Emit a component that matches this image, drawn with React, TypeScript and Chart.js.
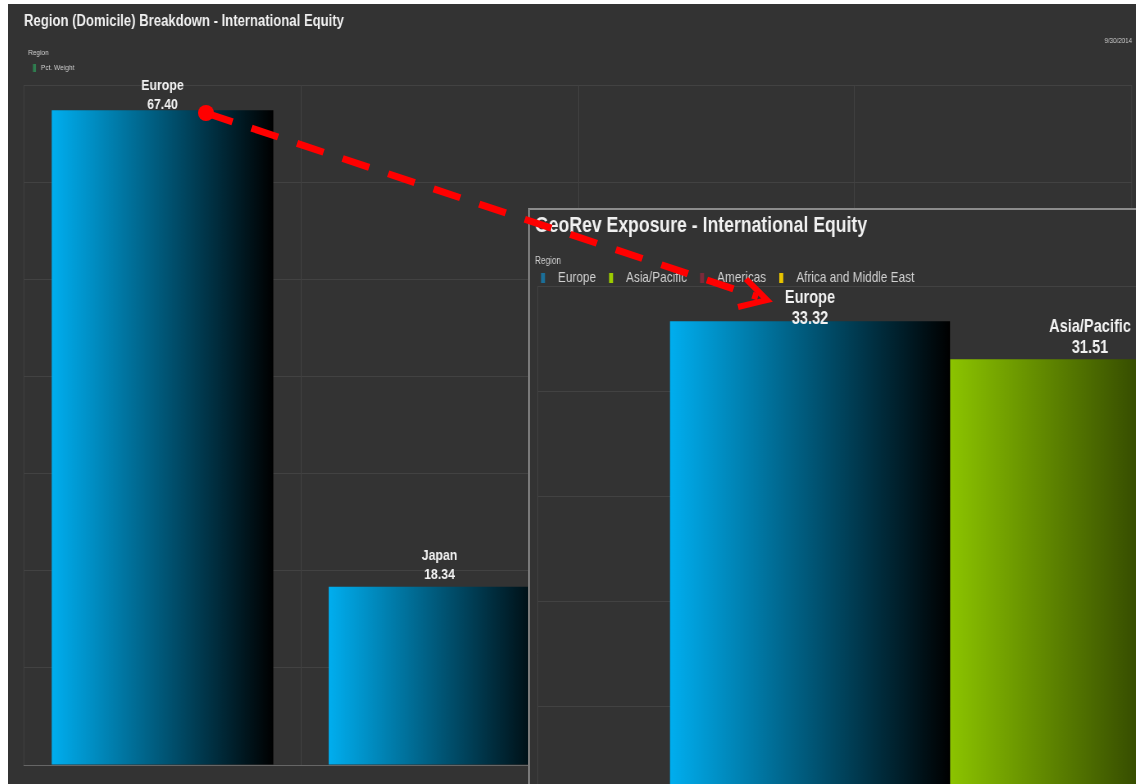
import React, { useEffect, useRef } from 'react';
import { Chart, registerables } from 'chart.js';

Chart.register(...registerables);

// ---------- data ----------
const domicileTitle = 'Region (Domicile) Breakdown - International Equity';
const domicileCategories = ['Europe', 'Japan', 'Pacific ex Japan', 'Other'];
const domicileWeights = [67.4, 18.34, 11.82, 2.44];
const domicileSeriesLabel = 'Pct. Weight';
const domicileTicks = [0, 10, 20, 30, 40, 50, 60, 70];
const asOfDate = '9/30/2014';

const georevTitle = 'GeoRev Exposure - International Equity';
const georevRegions = ['Europe', 'Asia/Pacific', 'Americas', 'Africa and Middle East'];
const georevExposure = [33.32, 31.51, 27.9, 7.27];
const georevTicks = [0, 5, 10, 15, 20, 25, 30, 35];

const legendTitle = 'Region';

// ---------- styles ----------
// the source screenshot is horizontally condensed; the canvases are drawn wider and squeezed.
const S = 0.82;
const FONT = "'Liberation Sans', Arial, sans-serif";
const BG = '#333333';
const GRID = '#424242';
const blueStops = ['#00aeef', '#000000'];
const georevStops = [
  ['#00aeef', '#000000'],
  ['#8cc400', '#0c1200'],
  ['#e0252b', '#000000'],
  ['#f3c300', '#000000'],
];
const georevMarkerColors = ['#1b6f99', '#9ccc00', '#7a2a3a', '#e8c400'];
const domicileMarkerColor = '#2f7d4f';

const OUTER_W = Math.round(1128 / S);
const INSET_W = 1702;

function barFill(c: any, stops: string[]) {
  const chart = c.chart;
  const area = chart.chartArea;
  if (!area || c.type !== 'data' || c.dataIndex === undefined) return stops[0];
  const xs = chart.scales.x;
  const ds = chart.data.datasets[c.datasetIndex];
  const n = chart.data.labels.length;
  const nd = chart.data.datasets.length;
  const catW = (xs.right - xs.left) / n;
  const groupW = catW * (ds.categoryPercentage ?? 0.8);
  const slotW = groupW / nd;
  const barW = slotW * (ds.barPercentage ?? 0.9);
  const center = xs.getPixelForValue(c.dataIndex);
  const left = center - groupW / 2 + slotW * c.datasetIndex + (slotW - barW) / 2;
  const g = chart.ctx.createLinearGradient(left, 0, left + barW, 0);
  stops.forEach((s, i) => g.addColorStop(i / (stops.length - 1), s));
  return g;
}

const valueLabelPlugin = {
  id: 'valueLabels',
  afterDatasetsDraw(chart: any, _a: any, o: any) {
    const { ctx, chartArea } = chart;
    ctx.save();
    ctx.fillStyle = o.color;
    ctx.font = o.font;
    ctx.textAlign = 'center';
    ctx.textBaseline = 'middle';
    chart.data.datasets.forEach((ds: any, di: number) => {
      const meta = chart.getDatasetMeta(di);
      meta.data.forEach((el: any, i: number) => {
        const v = ds.data[i];
        const name = o.nameFrom === 'dataset' ? ds.label : chart.data.labels[i];
        let nameY = el.y - o.nameOffset;
        const minY = chartArea.top + o.minNameY;
        const shift = Math.max(0, minY - nameY);
        nameY += shift;
        const valY = el.y - o.valueOffset + shift;
        ctx.fillText(name, el.x, nameY);
        ctx.fillText(Number(v).toFixed(2), el.x, valY);
      });
    });
    ctx.restore();
  },
};

const regionLegendPlugin = {
  id: 'regionLegend',
  afterDraw(chart: any, _a: any, o: any) {
    const ctx = chart.ctx;
    ctx.save();
    ctx.textBaseline = 'middle';
    ctx.textAlign = 'left';
    ctx.fillStyle = o.titleColor;
    ctx.font = o.titleFont;
    ctx.fillText(o.title, o.x, o.titleY);
    let x = o.x + o.indent;
    ctx.font = o.font;
    const items = o.items;
    for (let i = 0; i < items.length; i++) {
      const it = items[i];
      ctx.fillStyle = it.color;
      ctx.fillRect(x, o.y - o.markerH / 2, o.markerW, o.markerH);
      x += o.markerW + o.markerGap;
      ctx.fillStyle = o.color;
      ctx.fillText(it.text, x, o.y);
      x += ctx.measureText(it.text).width + o.itemGap;
    }
    ctx.restore();
  },
};

function DomicileChart() {
  const ref = useRef<HTMLCanvasElement>(null);
  useEffect(() => {
    const chart = new Chart(ref.current as HTMLCanvasElement, {
      type: 'bar',
      data: {
        labels: domicileCategories,
        datasets: [
          {
            label: domicileSeriesLabel,
            data: domicileWeights,
            backgroundColor: (c: any) => barFill(c, blueStops),
            borderWidth: 0,
            categoryPercentage: 1,
            barPercentage: 0.8,
          } as any,
        ],
      },
      options: {
        responsive: false,
        animation: false,
        events: [],
        layout: { padding: { left: 16 / S, right: OUTER_W - 1124 / S, top: 0, bottom: 19 } },
        scales: {
          x: {
            grid: { color: GRID, drawTicks: false, offset: true },
            border: { color: '#666666' },
            ticks: { display: false },
            afterFit: (s: any) => { s.height = 0; },
          },
          y: {
            min: domicileTicks[0],
            max: domicileTicks[domicileTicks.length - 1],
            ticks: { display: false, stepSize: domicileTicks[1] - domicileTicks[0] },
            grid: { color: GRID, drawTicks: false },
            border: { display: false },
            afterFit: (s: any) => { s.width = 0; },
          },
        },
        plugins: {
          legend: { display: false },
          tooltip: { enabled: false },
          title: {
            display: true,
            text: domicileTitle,
            align: 'start',
            color: '#f0f0f0',
            font: { family: FONT, size: 16, weight: 'bold' },
            padding: { top: 7.5, bottom: 0 },
          },
          subtitle: {
            display: true,
            text: asOfDate,
            align: 'end',
            color: '#cfcfcf',
            font: { family: FONT, size: 7.5 },
            padding: { top: 6.1, bottom: 39.2 },
          },
          valueLabels: {
            color: '#f2f2f2',
            font: `bold 15px ${FONT}`,
            nameFrom: 'category',
            nameOffset: 31,
            valueOffset: 12,
            minNameY: 1,
          },
          regionLegend: {
            title: legendTitle,
            titleFont: `8px ${FONT}`,
            titleColor: '#cfcfcf',
            x: 20 / S,
            titleY: 49,
            indent: 6,
            y: 64,
            font: `8px ${FONT}`,
            color: '#cfcfcf',
            markerW: 3.7,
            markerH: 8,
            markerGap: 6,
            itemGap: 12,
            items: [{ text: domicileSeriesLabel, color: domicileMarkerColor }],
          },
        } as any,
      },
      plugins: [valueLabelPlugin, regionLegendPlugin],
    } as any);
    return () => chart.destroy();
  }, []);
  return (
    <canvas
      ref={ref}
      width={OUTER_W}
      height={780}
      style={{ display: 'block', width: OUTER_W, height: 780, transform: `scaleX(${S})`, transformOrigin: '0 0' }}
    />
  );
}

function GeoRevChart() {
  const ref = useRef<HTMLCanvasElement>(null);
  useEffect(() => {
    const chart = new Chart(ref.current as HTMLCanvasElement, {
      type: 'bar',
      data: {
        labels: ['International Equity'],
        datasets: georevRegions.map((r, i) => ({
          label: r,
          data: [georevExposure[i]],
          backgroundColor: (c: any) => barFill(c, georevStops[i]),
          borderWidth: 0,
          categoryPercentage: 0.8093,
          barPercentage: 1,
        })) as any,
      },
      options: {
        responsive: false,
        animation: false,
        events: [],
        layout: { padding: { left: 5 / S, right: 4.3, top: 0, bottom: 4 } },
        scales: {
          x: {
            grid: { color: GRID, drawTicks: false, offset: true },
            border: { color: '#666666' },
            ticks: { display: false },
            afterFit: (s: any) => { s.height = 0; },
          },
          y: {
            min: georevTicks[0],
            max: georevTicks[georevTicks.length - 1],
            ticks: { display: false, stepSize: georevTicks[1] - georevTicks[0] },
            grid: { color: GRID, drawTicks: false },
            border: { display: false },
            afterFit: (s: any) => { s.width = 3 / S; },
          },
        },
        plugins: {
          legend: { display: false },
          tooltip: { enabled: false },
          title: {
            display: true,
            text: georevTitle,
            align: 'start',
            color: '#f0f0f0',
            font: { family: FONT, size: 21.5, weight: 'bold' },
            padding: { top: 3.1, bottom: 47.1 },
          },
          valueLabels: {
            color: '#f2f2f2',
            font: `bold 17.8px ${FONT}`,
            nameFrom: 'dataset',
            nameOffset: 32,
            valueOffset: 11,
            minNameY: 12,
          },
          regionLegend: {
            title: legendTitle,
            titleFont: `10px ${FONT}`,
            titleColor: '#cfcfcf',
            x: 5 / S,
            titleY: 51,
            indent: 7.3,
            y: 68,
            font: `14.4px ${FONT}`,
            color: '#d0d0d0',
            markerW: 4.9,
            markerH: 10,
            markerGap: 15.8,
            itemGap: 15.9,
            items: georevRegions.map((r, i) => ({ text: r, color: georevMarkerColors[i] })),
          },
        } as any,
      },
      plugins: [valueLabelPlugin, regionLegendPlugin],
    } as any);
    return () => chart.destroy();
  }, []);
  return (
    <canvas
      ref={ref}
      width={INSET_W}
      height={815}
      style={{ display: 'block', width: INSET_W, height: 815, transform: `scaleX(${S})`, transformOrigin: '0 0' }}
    />
  );
}

function ArrowOverlay() {
  return (
    <svg width={1136} height={784} style={{ position: 'absolute', left: 0, top: 0, pointerEvents: 'none' }}>
      <line x1={206} y1={113} x2={758} y2={297} stroke="#ff0000" strokeWidth={7} strokeDasharray="28 20" />
      <circle cx={206} cy={113} r={8} fill="#ff0000" />
      <polyline points="746,279 767,300 738,307" fill="none" stroke="#ff0000" strokeWidth={6} strokeLinejoin="miter" />
    </svg>
  );
}

export default function App() {
  return (
    <div style={{ position: 'absolute', left: 0, top: 0, width: 1136, height: 784, overflow: 'hidden', background: '#ffffff' }}>
      <div style={{ position: 'absolute', left: 8, top: 4, width: 1128, height: 780, background: BG, overflow: 'hidden' }}>
        <DomicileChart />
      </div>
      <div
        style={{
          position: 'absolute',
          left: 528,
          top: 208,
          width: 1400,
          height: 820,
          background: BG,
          borderTop: '2px solid #8c8c8c',
          borderLeft: '2px solid #7a7a7a',
          overflow: 'hidden',
        }}
      >
        <GeoRevChart />
      </div>
      <ArrowOverlay />
    </div>
  );
}
